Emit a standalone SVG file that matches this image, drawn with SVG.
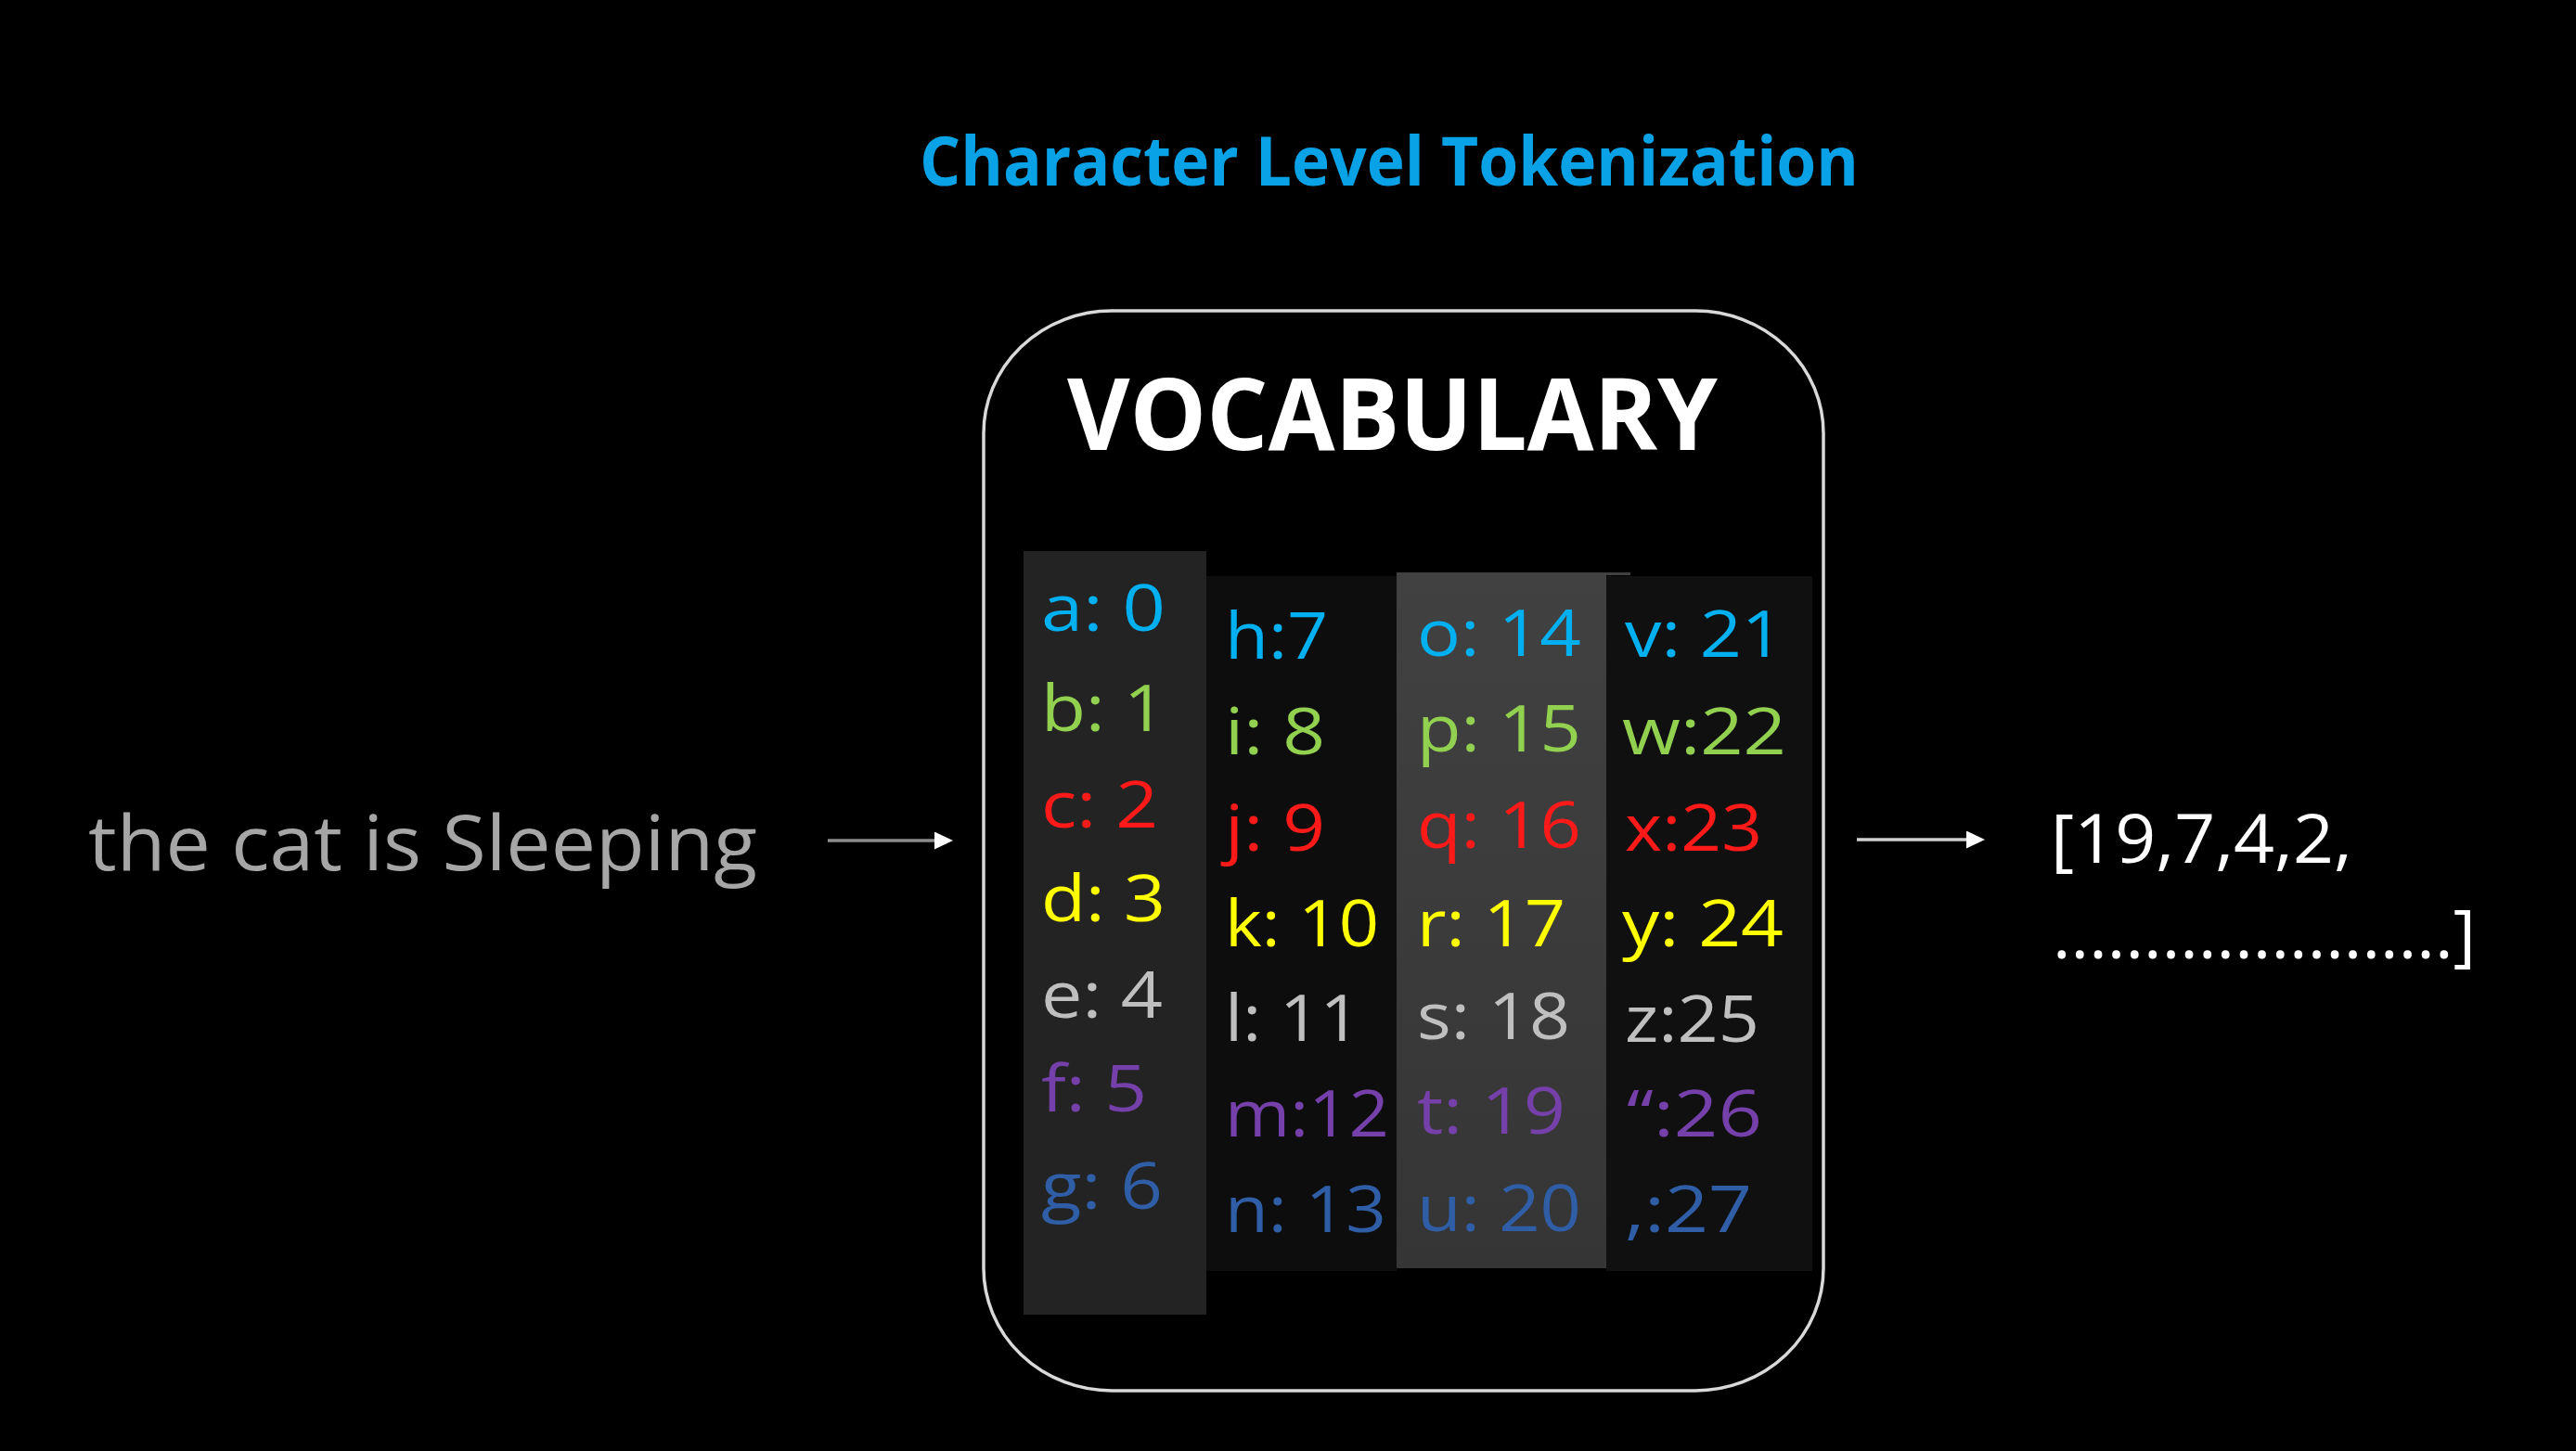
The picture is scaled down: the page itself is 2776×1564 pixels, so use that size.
<svg xmlns="http://www.w3.org/2000/svg" width="2776" height="1564" viewBox="0 0 2776 1564">
  <defs>
    <style>
      .title { font-family: "Open Sans", "Noto Sans", sans-serif; font-weight: 700; font-size: 74px; fill: #0AA2E6; }
      .vocab { font-family: "Open Sans", "Noto Sans", sans-serif; font-weight: 700; font-size: 108px; fill: #FFFFFF; }
      .plain { font-family: "Open Sans", "Noto Sans", sans-serif; font-weight: 400; }
      .item { font-family: "Open Sans", "Noto Sans", sans-serif; font-weight: 400; font-size: 70px; }
      .c-blue { fill: #00B0F0; }
      .c-green { fill: #92D050; }
      .c-red { fill: #FF1A1A; }
      .c-yellow { fill: #FFFF00; }
      .c-gray { fill: #BFBFBF; }
      .c-purple { fill: #7640AA; }
      .c-navy { fill: #2F5DA6; }
      .frame { fill: #000000; stroke: #D9D9D9; stroke-width: 3.5; }
      .conn { fill: none; stroke-width: 3.5; }
    </style>
    <linearGradient id="col3Fill" x1="0" y1="0" x2="0" y2="1">
      <stop offset="0" stop-color="#414141"/>
      <stop offset="1" stop-color="#353535"/>
    </linearGradient>
    <marker id="head" markerUnits="userSpaceOnUse" markerWidth="20" markerHeight="19" refX="2" refY="9.5" orient="auto">
      <path d="M0,0 L20,9.5 L0,19 Z" fill="#FFFFFF"/>
    </marker>
  </defs>

  <!-- background -->
  <rect x="0" y="0" width="2776" height="1564" fill="#000000"/>

  <!-- heading -->
  <g id="title">
    <text class="title" x="991" y="200" textLength="1012" lengthAdjust="spacingAndGlyphs">Character Level Tokenization</text>
  </g>

  <!-- input sentence -->
  <g id="input">
    <text class="plain" x="95" y="938" font-size="82" fill="#A6A6A6" textLength="721" lengthAdjust="spacingAndGlyphs">the cat is Sleeping</text>
  </g>

  <!-- vocabulary box -->
  <g id="vocabulary">
    <rect class="frame" x="1060" y="335" width="905" height="1164" rx="138" ry="132"/>
    <text class="vocab" x="1150" y="485" textLength="701" lengthAdjust="spacingAndGlyphs">VOCABULARY</text>

    <!-- column backgrounds -->
    <rect x="1103" y="594" width="197" height="823" fill="#232323"/>
    <rect x="1300" y="621" width="205" height="749" fill="#0D0D0D"/>
    <rect x="1731" y="621" width="222" height="749" fill="#101010"/>
    <rect x="1505" y="617" width="226" height="750" fill="url(#col3Fill)"/>
    <rect x="1731" y="617" width="26" height="3" fill="#404040"/>

    <!-- column 1: a..g -->
    <g id="col-a-g" class="item">
      <text class="c-blue" x="1122" y="680" textLength="134" lengthAdjust="spacingAndGlyphs">a: 0</text>
      <text class="c-green" x="1122" y="788" textLength="134" lengthAdjust="spacingAndGlyphs">b: 1</text>
      <text class="c-red" x="1122" y="892" textLength="126" lengthAdjust="spacingAndGlyphs">c: 2</text>
      <text class="c-yellow" x="1122" y="993" textLength="134" lengthAdjust="spacingAndGlyphs">d: 3</text>
      <text class="c-gray" x="1122" y="1097" textLength="131" lengthAdjust="spacingAndGlyphs">e: 4</text>
      <text class="c-purple" x="1122" y="1198" textLength="114" lengthAdjust="spacingAndGlyphs">f: 5</text>
      <text class="c-navy" x="1122" y="1303" textLength="131" lengthAdjust="spacingAndGlyphs">g: 6</text>
    </g>

    <!-- column 2: h..n -->
    <g id="col-h-n" class="item">
      <text class="c-blue" x="1320" y="710" textLength="111" lengthAdjust="spacingAndGlyphs">h:7</text>
      <text class="c-green" x="1320" y="813" textLength="108" lengthAdjust="spacingAndGlyphs">i: 8</text>
      <text class="c-red" x="1320" y="917" textLength="108" lengthAdjust="spacingAndGlyphs">j: 9</text>
      <text class="c-yellow" x="1320" y="1020" textLength="166" lengthAdjust="spacingAndGlyphs">k: 10</text>
      <text class="c-gray" x="1320" y="1122" textLength="146" lengthAdjust="spacingAndGlyphs">l: 11</text>
      <text class="c-purple" x="1320" y="1225" textLength="177" lengthAdjust="spacingAndGlyphs">m:12</text>
      <text class="c-navy" x="1320" y="1328" textLength="174" lengthAdjust="spacingAndGlyphs">n: 13</text>
    </g>

    <!-- column 3: o..u -->
    <g id="col-o-u" class="item">
      <text class="c-blue" x="1527" y="707" textLength="177" lengthAdjust="spacingAndGlyphs">o: 14</text>
      <text class="c-green" x="1527" y="810" textLength="177" lengthAdjust="spacingAndGlyphs">p: 15</text>
      <text class="c-red" x="1527" y="914" textLength="177" lengthAdjust="spacingAndGlyphs">q: 16</text>
      <text class="c-yellow" x="1527" y="1020" textLength="160" lengthAdjust="spacingAndGlyphs">r: 17</text>
      <text class="c-gray" x="1527" y="1120" textLength="165" lengthAdjust="spacingAndGlyphs">s: 18</text>
      <text class="c-purple" x="1527" y="1222" textLength="160" lengthAdjust="spacingAndGlyphs">t: 19</text>
      <text class="c-navy" x="1527" y="1327" textLength="177" lengthAdjust="spacingAndGlyphs">u: 20</text>
    </g>

    <!-- column 4: v..z and punctuation -->
    <g id="col-v-27" class="item">
      <text class="c-blue" x="1751" y="708" textLength="171" lengthAdjust="spacingAndGlyphs">v: 21</text>
      <text class="c-green" x="1748" y="813" textLength="177" lengthAdjust="spacingAndGlyphs">w:22</text>
      <text class="c-red" x="1751" y="917" textLength="148" lengthAdjust="spacingAndGlyphs">x:23</text>
      <text class="c-yellow" x="1748" y="1020" textLength="174" lengthAdjust="spacingAndGlyphs">y: 24</text>
      <text class="c-gray" x="1751" y="1123" textLength="145" lengthAdjust="spacingAndGlyphs">z:25</text>
      <text class="c-purple" x="1753" y="1225" textLength="146" lengthAdjust="spacingAndGlyphs">“:26</text>
      <text class="c-navy" x="1751" y="1328" textLength="137" lengthAdjust="spacingAndGlyphs">,:27</text>
    </g>
  </g>

  <!-- token id output -->
  <g id="output">
    <text class="plain" x="2210" y="930" font-size="74" fill="#FFFFFF" textLength="325" lengthAdjust="spacingAndGlyphs">[19,7,4,2,</text>
    <text class="plain" x="2212" y="1033" font-size="74" fill="#FFFFFF" textLength="456" lengthAdjust="spacingAndGlyphs">......................]</text>
  </g>

  <!-- connectors -->
  <g id="connectors">
    <line class="conn" x1="892" y1="906" x2="1009" y2="906" stroke="#8C8C8C" marker-end="url(#head)"/>
    <line class="conn" x1="2001" y1="905" x2="2121" y2="905" stroke="#D0D0D0" marker-end="url(#head)"/>
  </g>
</svg>
